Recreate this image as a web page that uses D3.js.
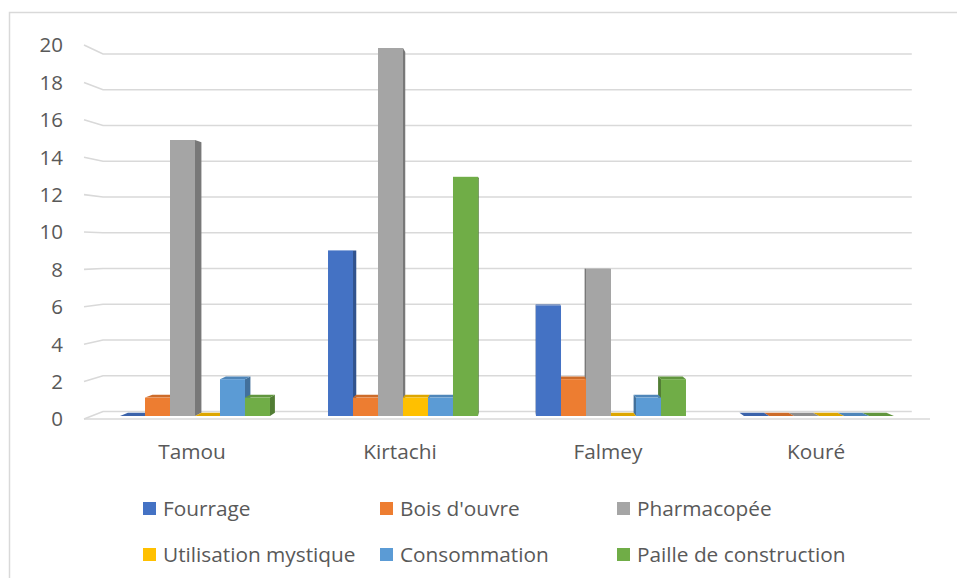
<!DOCTYPE html>
<html>
<head>
<meta charset="utf-8">
<script src="https://cdn.jsdelivr.net/npm/d3@7"></script>
<style>
  html, body { margin: 0; padding: 0; background: #fff; }
  svg { display: block; }
  text { font-family: "Open Sans", "Noto Sans", sans-serif; fill: #595959; }
</style>
</head>
<body>
<svg id="chart" width="957" height="578"></svg>
<script>
// ---- data ----
const categories = ["Tamou", "Kirtachi", "Falmey", "Kouré"];
const seriesNames = ["Fourrage", "Bois d'ouvre", "Pharmacopée", "Utilisation mystique", "Consommation", "Paille de construction"];
const seriesColors = ["#4472C4", "#ED7D31", "#A5A5A5", "#FFC000", "#5B9BD5", "#70AD47"];
const fourrage = [0, 9, 6, 0];
const boisOuvre = [1, 1, 2, 0];
const pharmacopee = [15, 20, 8, 0];
const mystique = [0, 1, 0, 0];
const consommation = [2, 1, 1, 0];
const paille = [1, 13, 2, 0];
const seriesValues = [fourrage, boisOuvre, pharmacopee, mystique, consommation, paille];
const yTicks = [0, 2, 4, 6, 8, 10, 12, 14, 16, 18, 20];

// ---- layout ----
const svg = d3.select("#chart");
const V = { x: 516, y: 250 };          // perspective vanishing point
const kWall = 0.956;                   // depth factor of back wall
const kBar = 0.98;                     // depth factor of bar backs
const proj = (p, k) => [V.x + k * (p[0] - V.x), V.y + k * (p[1] - V.y)];

const xFront = [84, 930];
const yFront = d3.scaleLinear().domain([0, 20]).range([419, 45]);   // front plane (axis)
const yBar = d3.scaleLinear().domain([0, 20]).range([416, 48]);     // bar front faces

const x0 = d3.scaleBand().domain(categories).range([91, 923]).paddingInner(0.279).paddingOuter(0.1395);
const x1 = d3.scaleBand().domain(seriesNames).range([0, x0.bandwidth()]).padding(0);

// chart frame (partially visible)
svg.append("path").attr("d", "M9.5,578 L9.5,12.5 L957,12.5")
  .attr("fill", "none").attr("stroke", "#d9d9d9").attr("stroke-width", 1.5);

// gridlines (left wall + back wall)
const grid = svg.append("g").attr("stroke", "#d9d9d9").attr("stroke-width", 1.6).attr("fill", "none");
yTicks.forEach(v => {
  const fl = [xFront[0], yFront(v)];
  const bl = proj(fl, kWall);
  const br = proj([xFront[1], yFront(v)], kWall);
  grid.append("path").attr("d", `M${fl[0]},${fl[1]} L${bl[0]},${bl[1]} L${br[0]},${br[1]}`);
});
// floor front edge
grid.append("line").attr("x1", xFront[0]).attr("x2", xFront[1])
  .attr("y1", yFront(0)).attr("y2", yFront(0));

// y tick labels
svg.append("g").selectAll("text").data(yTicks).join("text")
  .attr("x", 63).attr("y", d => yFront(d) + 2)
  .attr("text-anchor", "end").attr("dominant-baseline", "middle")
  .attr("font-size", 20.5).text(d => d);

// bars
const bars = [];
categories.forEach((c, ci) => {
  seriesNames.forEach((s, si) => {
    const xa = x0(c) + x1(s);
    const xb = xa + x1.bandwidth();
    bars.push({ xa, xb, yt: yBar(seriesValues[si][ci]), yb: yBar(0), color: seriesColors[si] });
  });
});
bars.sort((a, b) => Math.abs((b.xa + b.xb) / 2 - V.x) - Math.abs((a.xa + a.xb) / 2 - V.x));

const poly = pts => "M" + pts.map(p => p.join(",")).join("L") + "Z";
const gBars = svg.append("g");
bars.forEach(b => {
  const g = gBars.append("g");
  const base = d3.rgb(b.color);
  const cx = (b.xa + b.xb) / 2;
  const sx = cx < V.x ? b.xb : b.xa;
  // side face
  g.append("path").attr("d", poly([[sx, b.yt], [sx, b.yb], proj([sx, b.yb], kBar), proj([sx, b.yt], kBar)]))
    .attr("fill", base.darker(0.9).formatHex());
  // top face (visible when below eye level)
  if (b.yt > V.y) {
    g.append("path").attr("d", poly([[b.xa, b.yt], [b.xb, b.yt], proj([b.xb, b.yt], kBar), proj([b.xa, b.yt], kBar)]))
      .attr("fill", base.darker(0.4).formatHex());
  }
  // front face
  g.append("rect").attr("x", b.xa).attr("y", b.yt).attr("width", b.xb - b.xa)
    .attr("height", Math.max(0, b.yb - b.yt)).attr("fill", b.color);
});

// category labels
svg.append("g").selectAll("text").data(categories).join("text")
  .attr("x", d => x0(d) + x0.bandwidth() / 2 - 3).attr("y", 458.5)
  .attr("text-anchor", "middle").attr("font-size", 20.8).text(d => d);

// legend
const legCols = [143, 380, 617];
const legRows = [508.5, 554.5];
const leg = svg.append("g").selectAll("g").data(seriesNames).join("g")
  .attr("transform", (d, i) => `translate(${legCols[i % 3]},${legRows[Math.floor(i / 3)]})`);
leg.append("rect").attr("x", 0).attr("y", -6.5).attr("width", 13).attr("height", 13)
  .attr("fill", (d, i) => seriesColors[i]);
leg.append("text").attr("x", 20).attr("y", 7.5).attr("font-size", 20.8).text(d => d);
</script>
</body>
</html>
